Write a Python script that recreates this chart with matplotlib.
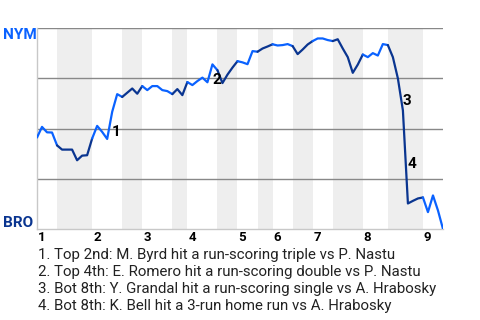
import matplotlib
matplotlib.use("Agg")
import matplotlib.pyplot as plt
import numpy as np

# win probability for NYM (1.0 = NYM wins, 0.0 = BRO wins), one value per play
wp = [0.455, 0.508, 0.481, 0.480, 0.416, 0.395, 0.395, 0.395, 0.342, 0.365,
      0.367, 0.450, 0.513, 0.483, 0.448, 0.583, 0.671, 0.657, 0.678, 0.699,
      0.673, 0.711, 0.691, 0.711, 0.711, 0.691, 0.686, 0.671, 0.696, 0.666,
      0.731, 0.716, 0.736, 0.753, 0.730, 0.819, 0.790, 0.726, 0.768, 0.803,
      0.835, 0.829, 0.820, 0.885, 0.882, 0.898, 0.908, 0.919, 0.913, 0.915,
      0.920, 0.910, 0.870, 0.893, 0.918, 0.935, 0.948, 0.948, 0.940, 0.935,
      0.944, 0.898, 0.855, 0.777, 0.818, 0.868, 0.855, 0.875, 0.863, 0.920,
      0.915, 0.855, 0.749, 0.590, 0.127, 0.140, 0.152, 0.157, 0.084, 0.167,
      0.092, 0.000]

# play index where each half inning starts (top 1st ... top 9th, then end)
half_starts = [0, 4, 11, 17, 21, 27, 30, 36, 40, 44, 47, 51, 55, 59, 65, 70, 77, 81]
inning_labels = ["1", "2", "3", "4", "5", "6", "7", "8", "9"]

# key plays
event_plays = [15, 35, 73, 74]
event_texts = [
    "1. Top 2nd: M. Byrd hit a run-scoring triple vs P. Nastu",
    "2. Top 4th: E. Romero hit a run-scoring double vs P. Nastu",
    "3. Bot 8th: Y. Grandal hit a run-scoring single vs A. Hrabosky",
    "4. Bot 8th: K. Bell hit a 3-run home run vs A. Hrabosky",
]

away_team, home_team = "NYM", "BRO"
top_color = "#0a62ff"
bot_color = "#0a3590"

plt.rcParams['font.family'] = ['Roboto', 'DejaVu Sans']

fig = plt.figure(figsize=(4.8, 3.2), dpi=100)
ax = fig.add_axes([37 / 480, 1 - 229 / 320, 406 / 480, 201 / 320])

x = np.arange(len(wp))
n_plays = len(wp) - 1
ax.set_xlim(0, n_plays)
ax.set_ylim(0, 1)

# shade bottom halves, draw line coloured by batting team
for h in range(len(half_starts) - 1):
    s, e = half_starts[h], half_starts[h + 1]
    if h % 2 == 1:
        ax.axvspan(s, e, color="#eeeeee", lw=0, zorder=0)
    ax.plot(x[s:e + 1], wp[s:e + 1], color=top_color if h % 2 == 0 else bot_color,
            lw=1.6, solid_capstyle="round", solid_joinstyle="round", zorder=3)

for yv in [0.25, 0.5, 0.75, 1.0]:
    ax.axhline(yv, color="#888888", lw=1.0, zorder=1)

for side in ["top", "right"]:
    ax.spines[side].set_visible(False)
for side in ["left", "bottom"]:
    ax.spines[side].set_color("#c8c8c8")
    ax.spines[side].set_linewidth(1.0)
ax.set_xticks([])
ax.set_yticks([])

# inning numbers
for i, lab in enumerate(inning_labels):
    ax.text(half_starts[2 * i] + 0.2, -0.012, lab, transform=ax.get_xaxis_transform(),
            ha="left", va="top", fontsize=9.5, fontweight="bold", color="black")

# event markers
for k, p in enumerate(event_plays):
    ymid = (wp[p - 1] + wp[p]) / 2
    ax.text(p, ymid, str(k + 1), ha="left", va="top", fontsize=11,
            fontweight="bold", color="black", zorder=4)

fig.text(3 / 480, 1 - 28 / 320, away_team, ha="left", va="top", fontsize=11,
         fontweight="bold", color=top_color)
fig.text(3 / 480, 1 - 227 / 320, home_team, ha="left", va="baseline", fontsize=11,
         fontweight="bold", color=bot_color)

for k, t in enumerate(event_texts):
    fig.text(38.5 / 480, 1 - (259 + 17 * k) / 320, t, ha="left", va="baseline",
             fontsize=10.8, color="#222222")

fig.savefig("out.png", dpi=100)
